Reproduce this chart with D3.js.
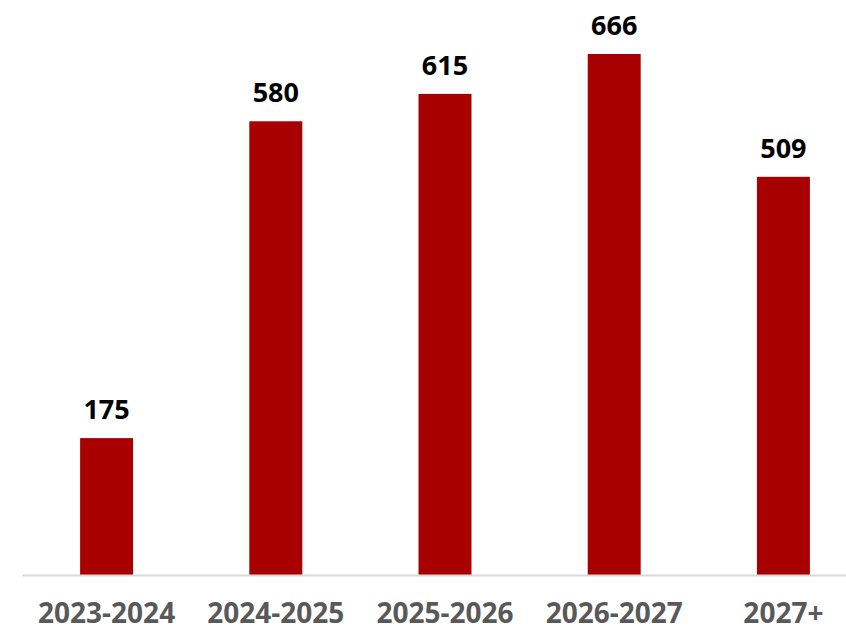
<!DOCTYPE html>
<html>
<head>
<meta charset="utf-8">
<script src="https://cdn.jsdelivr.net/npm/d3@7"></script>
<style>
  body { margin: 0; background: #fff; }
  svg { display: block; font-family: "Open Sans", sans-serif; }
</style>
</head>
<body>
<svg id="chart"></svg>
<script>
const categories = ["2023-2024", "2024-2025", "2025-2026", "2026-2027", "2027+"];
const values = [175, 580, 615, 666, 509];

const width = 846, height = 629;
const margin = { top: 54, right: -22, bottom: 54, left: 22 };
const baseY = height - margin.bottom;

const svg = d3.select("#chart")
    .attr("width", width)
    .attr("height", height);

const x = d3.scaleBand()
    .domain(categories)
    .range([margin.left, width - margin.right])
    .paddingInner(0.687)
    .paddingOuter(0.687 / 2);

const y = d3.scaleLinear()
    .domain([0, 666])
    .range([baseY, margin.top]);

// bars
svg.append("g")
    .selectAll("rect")
    .data(categories)
    .join("rect")
    .attr("x", d => x(d))
    .attr("y", (d, i) => y(values[i]))
    .attr("width", x.bandwidth())
    .attr("height", (d, i) => baseY - y(values[i]))
    .attr("fill", "#a80000");

// value labels
svg.append("g")
    .selectAll("text")
    .data(categories)
    .join("text")
    .attr("x", d => x(d) + x.bandwidth() / 2)
    .attr("y", (d, i) => y(values[i]) - 19)
    .attr("text-anchor", "middle")
    .attr("font-size", 27)
    .attr("font-weight", "bold")
    .attr("fill", "#000")
    .text((d, i) => values[i]);

// axis
const xAxis = svg.append("g")
    .attr("transform", `translate(0, ${baseY})`)
    .call(d3.axisBottom(x).tickSize(0).tickPadding(28));

xAxis.select(".domain")
    .attr("stroke", "#d9d9d9")
    .attr("stroke-width", 2);

xAxis.selectAll("text")
    .attr("font-family", "Open Sans, sans-serif")
    .attr("font-size", 28)
    .attr("font-weight", "bold")
    .attr("fill", "#595959");
</script>
</body>
</html>
